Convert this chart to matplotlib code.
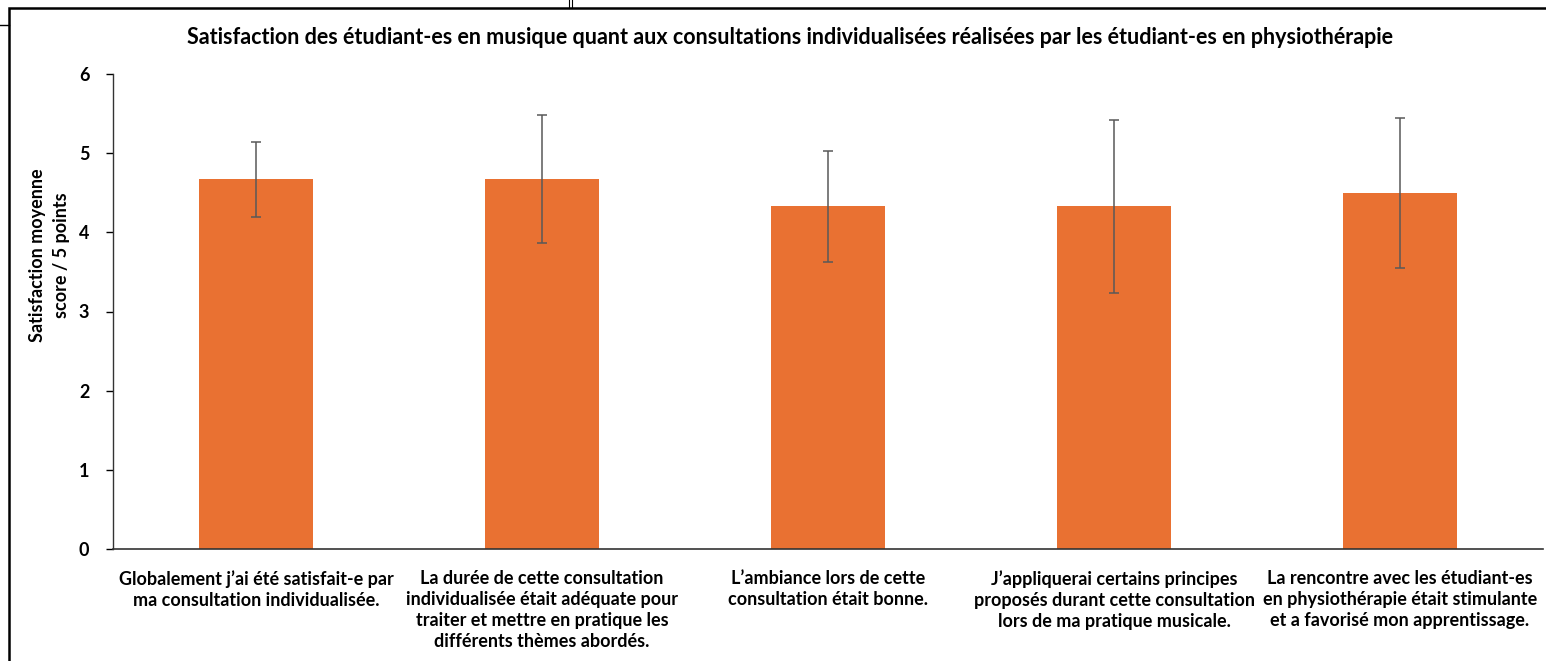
import matplotlib.pyplot as plt
from matplotlib.lines import Line2D
from matplotlib.patches import Rectangle

# ── Data ──────────────────────────────────────────────────────────────────────
labels = [
    "Globalement j'ai été satisfait-e par\nma consultation individualisée.",
    "La durée de cette consultation\nindividualisée était adéquate pour\ntraiter et mettre en pratique les\ndifférents thèmes abordés.",
    "L'ambiance lors de cette\nconsultation était bonne.",
    "J'appliquerai certains principes\nproposés durant cette consultation\nlors de ma pratique musicale.",
    "La rencontre avec les étudiant-es\nen physiothérapie était stimulante\net a favorisé mon apprentissage.",
]
labels = [l.replace("'", "\u2019") for l in labels]
means = [4.67, 4.67, 4.33, 4.33, 4.50]
sds = [0.47, 0.81, 0.70, 1.09, 0.95]

title = ("Satisfaction des étudiant-es en musique quant aux consultations "
         "individualisées réalisées par les étudiant-es en physiothérapie")
ylabel = "Satisfaction moyenne\nscore / 5 points"

plt.rcParams['font.family'] = ['Lato', 'DejaVu Sans']

fig = plt.figure(figsize=(15.46, 6.61), dpi=100)
ax = fig.add_axes([113/1546, 1-549/661, (1543-113)/1546, (549-74)/661])

x = range(len(means))
ax.bar(x, means, width=0.40, color='#E97132', zorder=2)
ax.errorbar(x, means, yerr=sds, fmt='none', ecolor='#595959',
            elinewidth=1.1, capsize=3.5, capthick=1.1, zorder=3)

ax.set_xlim(-0.5, len(means) - 0.5)
ax.set_ylim(0, 6)
ax.set_yticks(range(7))
ax.set_yticklabels([str(v) for v in range(7)], fontsize=13, fontweight='bold')
ax.set_xticks(list(x))
ax.set_xticklabels(labels, fontsize=13, fontweight='bold', linespacing=1.3,
                   va='top')
ax.tick_params(axis='x', length=0, pad=15)
ax.tick_params(axis='y', direction='out', length=5, width=1, pad=12)

for s in ('top', 'right'):
    ax.spines[s].set_visible(False)
ax.spines['left'].set_color('#333333')
ax.spines['bottom'].set_color('#333333')
ax.spines['left'].set_linewidth(1)
ax.spines['bottom'].set_linewidth(1.2)

fig.text(49/1546, 1-255/661, ylabel, ha='center', va='center', rotation=90,
         fontsize=13, fontweight='bold', linespacing=1.5)

fig.text(790/1546, 1-38/661, title, ha='center', va='center',
         fontsize=15.5, fontweight='bold')

# screenshot frame
fig.add_artist(Rectangle((9/1546, -0.1), 1.2, 1 - 8/661 + 0.1,
                         transform=fig.transFigure, fill=False,
                         edgecolor='black', linewidth=1.8))
fig.add_artist(Line2D([0, 9/1546], [1-25/661, 1-25/661],
                      transform=fig.transFigure, color='black', lw=1))
fig.add_artist(Line2D([569/1546, 569/1546], [1, 1-8/661],
                      transform=fig.transFigure, color='black', lw=0.8))
fig.add_artist(Line2D([572/1546, 572/1546], [1, 1-8/661],
                      transform=fig.transFigure, color='black', lw=0.8))

fig.savefig('out.png', dpi=100)
